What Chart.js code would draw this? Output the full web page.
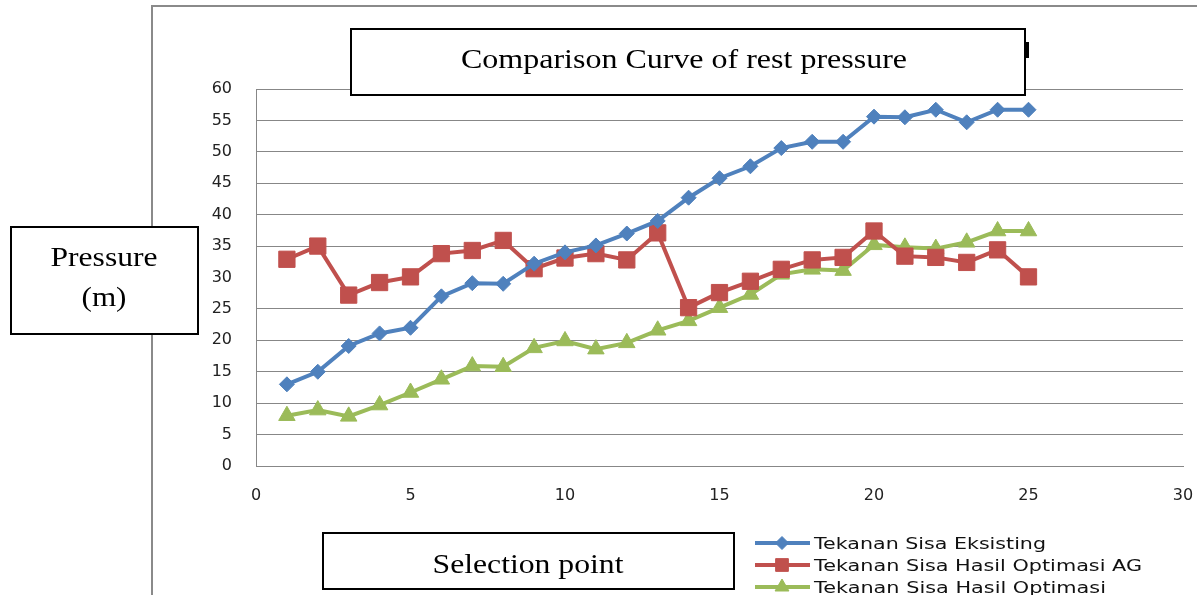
<!DOCTYPE html>
<html>
<head>
<meta charset="utf-8">
<script src="https://cdn.jsdelivr.net/npm/chart.js@4/dist/chart.umd.min.js"></script>
<style>
html,body{margin:0;padding:0;background:#fff;}
#wrap{position:relative;width:1197px;height:595px;}
</style>
</head>
<body>
<div id="wrap"><canvas id="c" width="1197" height="595"></canvas></div>
<script>
// ---- data ----
const selectionPoints = [1,2,3,4,5,6,7,8,9,10,11,12,13,14,15,16,17,18,19,20,21,22,23,24,25];
const tekananEksisting = [13.0,15.0,19.1,21.1,22.0,27.0,29.1,29.0,32.2,34.0,35.1,37.0,39.0,42.7,45.8,47.7,50.6,51.6,51.6,55.6,55.5,56.7,54.7,56.7,56.7];
const tekananOptimasiAG = [32.9,35.0,27.2,29.2,30.1,33.8,34.3,35.9,31.4,33.1,33.8,32.8,37.1,25.2,27.6,29.4,31.3,32.8,33.2,37.4,33.4,33.2,32.4,34.4,30.1];
const tekananOptimasi = [8.0,8.9,7.9,9.7,11.7,13.8,15.9,15.8,18.8,19.9,18.6,19.6,21.6,23.1,25.2,27.3,30.5,31.3,31.1,35.2,34.8,34.6,35.6,37.4,37.4];
const seriesLabels = ['Tekanan Sisa Eksisting','Tekanan Sisa Hasil Optimasi AG','Tekanan Sisa Hasil Optimasi'];
const xTickValues = [0,5,10,15,20,25,30];
const yTickValues = [0,5,10,15,20,25,30,35,40,45,50,55,60];
const chartTitle = 'Comparison Curve of rest pressure';
const yTitleLines = ['Pressure','(m)'];
const xTitle = 'Selection point';

const BLUE = '#4F81BD', RED = '#C0504D', GREEN = '#9BBB59', GRID = '#878787';

function toXY(vals){ return vals.map((v,i)=>({x:selectionPoints[i], y:v})); }

function stretchText(ctx, text, cx, baseline, font, targetW){
  ctx.save();
  ctx.font = font;
  const w = ctx.measureText(text).width;
  const s = targetW / w;
  ctx.translate(cx, baseline);
  ctx.scale(s, 1);
  ctx.textAlign = 'center';
  ctx.textBaseline = 'alphabetic';
  ctx.fillText(text, 0, 0);
  ctx.restore();
}
function stretchTextLeft(ctx, text, x, baseline, font, targetW){
  ctx.save();
  ctx.font = font;
  const w = ctx.measureText(text).width;
  const s = targetW / w;
  ctx.translate(x, baseline);
  ctx.scale(s, 1);
  ctx.textAlign = 'left';
  ctx.textBaseline = 'alphabetic';
  ctx.fillText(text, 0, 0);
  ctx.restore();
}
function box(ctx, x1, y1, x2, y2){
  ctx.save();
  ctx.fillStyle = '#fff';
  ctx.fillRect(x1, y1, x2-x1, y2-y1);
  ctx.strokeStyle = '#000';
  ctx.lineWidth = 2;
  ctx.strokeRect(x1, y1, x2-x1, y2-y1);
  ctx.restore();
}

const framePlugin = {
  id: 'frame',
  beforeDraw(chart){
    const ctx = chart.ctx;
    ctx.save();
    ctx.fillStyle = '#fff';
    ctx.fillRect(0,0,chart.width,chart.height);
    ctx.strokeStyle = '#8a8a8a';
    ctx.lineWidth = 2;
    ctx.beginPath();
    ctx.moveTo(152, 595);
    ctx.lineTo(152, 6);
    ctx.lineTo(1197, 6);
    ctx.stroke();
    ctx.restore();
  }
};

const overlayPlugin = {
  id: 'overlay',
  afterDraw(chart){
    const ctx = chart.ctx;
    // title box
    box(ctx, 351, 29, 1025, 95);
    ctx.fillStyle = '#000';
    ctx.fillRect(1025, 42, 4, 16);
    ctx.fillStyle = '#000';
    stretchText(ctx, chartTitle, 684, 68, '28px "Liberation Serif"', 446);
    // y title box
    box(ctx, 11, 227, 198, 334);
    ctx.fillStyle = '#000';
    stretchText(ctx, yTitleLines[0], 104, 266, '28px "Liberation Serif"', 107);
    stretchText(ctx, yTitleLines[1], 104, 306, '28px "Liberation Serif"', 45);
    // x title box
    box(ctx, 323, 533, 734, 589);
    ctx.fillStyle = '#000';
    stretchText(ctx, xTitle, 528, 573, '28px "Liberation Serif"', 191);
    // legend
    const rows = [543, 565, 587];
    const widths = [232, 328, 292];
    const radii = [6.5, 9, 8];
    chart.data.datasets.forEach((ds, i) => {
      const y = rows[i];
      ctx.save();
      ctx.strokeStyle = ds.borderColor;
      ctx.lineWidth = 4;
      ctx.beginPath();
      ctx.moveTo(755, y);
      ctx.lineTo(810, y);
      ctx.stroke();
      ctx.fillStyle = ds.backgroundColor;
      ctx.strokeStyle = ds.borderColor;
      ctx.lineWidth = 1;
      Chart.helpers.drawPoint(ctx, {pointStyle: ds.pointStyle, rotation: 0, borderWidth: 1, radius: radii[i]}, 782, y);
      ctx.restore();
      ctx.fillStyle = '#111';
      stretchTextLeft(ctx, ds.label, 814, y + 5.5, '15px "DejaVu Sans"', widths[i]);
    });
  }
};

new Chart(document.getElementById('c'), {
  type: 'line',
  data: {
    datasets: [
      {label: seriesLabels[0], data: toXY(tekananEksisting), borderColor: BLUE, backgroundColor: BLUE,
       borderWidth: 4, pointStyle: 'rectRot', pointRadius: 7.5, pointBorderWidth: 1, tension: 0},
      {label: seriesLabels[1], data: toXY(tekananOptimasiAG), borderColor: RED, backgroundColor: RED,
       borderWidth: 4, pointStyle: 'rect', pointRadius: 11.5, pointBorderWidth: 1, tension: 0},
      {label: seriesLabels[2], data: toXY(tekananOptimasi), borderColor: GREEN, backgroundColor: GREEN,
       borderWidth: 4, pointStyle: 'triangle', pointRadius: 9.5, pointBorderWidth: 1, tension: 0}
    ]
  },
  options: {
    responsive: false,
    animation: false,
    devicePixelRatio: 1,
    clip: false,
    layout: {padding: {left: 0, top: 89, right: 0, bottom: 89}},
    plugins: {legend: {display: false}, title: {display: false}, tooltip: {enabled: false}},
    scales: {
      x: {
        type: 'linear', min: 0, max: 30,
        afterBuildTicks: s => { s.ticks = xTickValues.map(v => ({value: v})); },
        afterFit: s => { s.height = 40; s.paddingRight = 14; },
        grid: {display: false, drawTicks: false},
        border: {display: true, color: GRID, width: 1},
        ticks: {color: '#222', font: {family: 'DejaVu Sans', size: 16}, padding: 20, maxRotation: 0}
      },
      y: {
        type: 'linear', min: 0, max: 60,
        afterBuildTicks: s => { s.ticks = yTickValues.map(v => ({value: v})); },
        afterFit: s => { s.width = 256; },
        grid: {drawTicks: false, lineWidth: 1,
               color: c => (c.tick && c.tick.value === 30) ? 'rgba(0,0,0,0)' : GRID},
        border: {display: true, color: GRID, width: 1},
        ticks: {color: '#222', font: {family: 'DejaVu Sans', size: 16}, padding: 24}
      }
    }
  },
  plugins: [framePlugin, overlayPlugin]
});
</script>
</body>
</html>
